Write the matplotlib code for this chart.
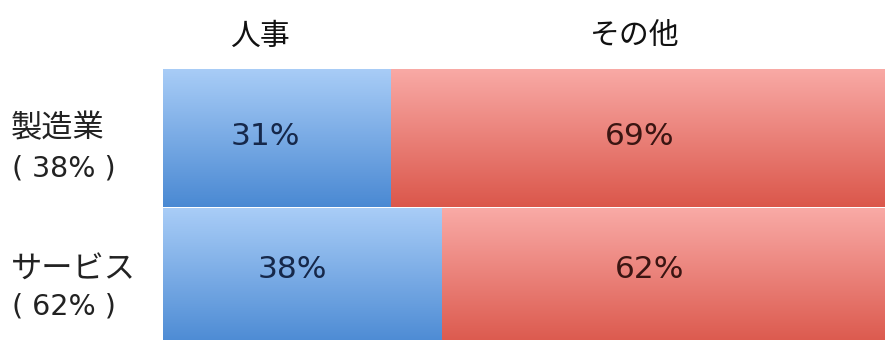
import matplotlib
matplotlib.use("Agg")
import matplotlib.pyplot as plt
import numpy as np
from matplotlib.colors import LinearSegmentedColormap

plt.rcParams['font.family'] = ['Noto Sans CJK JP', 'DejaVu Sans']

category_names = ["製造業", "サービス"]
category_shares = [38, 62]
series_names = ["人事", "その他"]
hr_values = [31, 38]
other_values = [69, 62]

W, H = 885, 340
fig = plt.figure(figsize=(W / 100, H / 100), dpi=100)
ax_left = 163 / W
ax_right = 897 / W
ax_top = 1 - 69 / H
ax = fig.add_axes([ax_left, 0, ax_right - ax_left, ax_top])

blue_cmap = LinearSegmentedColormap.from_list('b', ['#a9cdf7', '#4a89d3'])
red_cmap = LinearSegmentedColormap.from_list('r', ['#f9aaa6', '#db574b'])

ypos = np.arange(len(category_names))
bars_hr = ax.barh(ypos, hr_values, height=0.993, color='none')
bars_ot = ax.barh(ypos, other_values, left=hr_values, height=0.993, color='none')

grad = np.linspace(0, 1, 256).reshape(-1, 1)
for bars, cmap in ((bars_hr, blue_cmap), (bars_ot, red_cmap)):
    for p in bars:
        x0, y0 = p.get_x(), p.get_y()
        w, h = p.get_width(), p.get_height()
        ax.imshow(grad, cmap=cmap, aspect='auto',
                  extent=(x0, x0 + w, y0 + h, y0), zorder=1,
                  interpolation='bilinear')
ax.set_xlim(0, 100)
ax.set_ylim(1.45, -0.5)
ax.axis('off')

hr_nudge = [-1.6, -1.4]
ot_nudge = [-0.5, -2.7]
y_nudge = [-0.015, -0.055]
for i in range(len(category_names)):
    ax.text(hr_values[i] / 2 + hr_nudge[i], ypos[i] + y_nudge[i], f"{hr_values[i]}%",
            ha='center', va='center', fontsize=22.5, color='#16284a', zorder=3,
            family='DejaVu Sans')
    ax.text(hr_values[i] + other_values[i] / 2 + ot_nudge[i], ypos[i] + y_nudge[i],
            f"{other_values[i]}%",
            ha='center', va='center', fontsize=22.5, color='#3a1512', zorder=3,
            family='DejaVu Sans')

# series headers
fig.text(260 / W, 1 - 36 / H, series_names[0], ha='center', va='center',
         fontsize=21.5, color='#111111')
fig.text(635 / W, 1 - 35 / H, series_names[1], ha='center', va='center',
         fontsize=21.5, color='#111111')

# category labels
name_y = [128, 270]
share_y = [168, 307]
for i, c in enumerate(category_names):
    fig.text(11 / W, 1 - name_y[i] / H, c, ha='left', va='center',
             fontsize=22.5, color='#222222')
    fig.text(12 / W, 1 - share_y[i] / H, f"( {category_shares[i]}% )", ha='left',
             va='center', fontsize=20.5, color='#222222', family='DejaVu Sans')

fig.savefig('out.png', dpi=100)
